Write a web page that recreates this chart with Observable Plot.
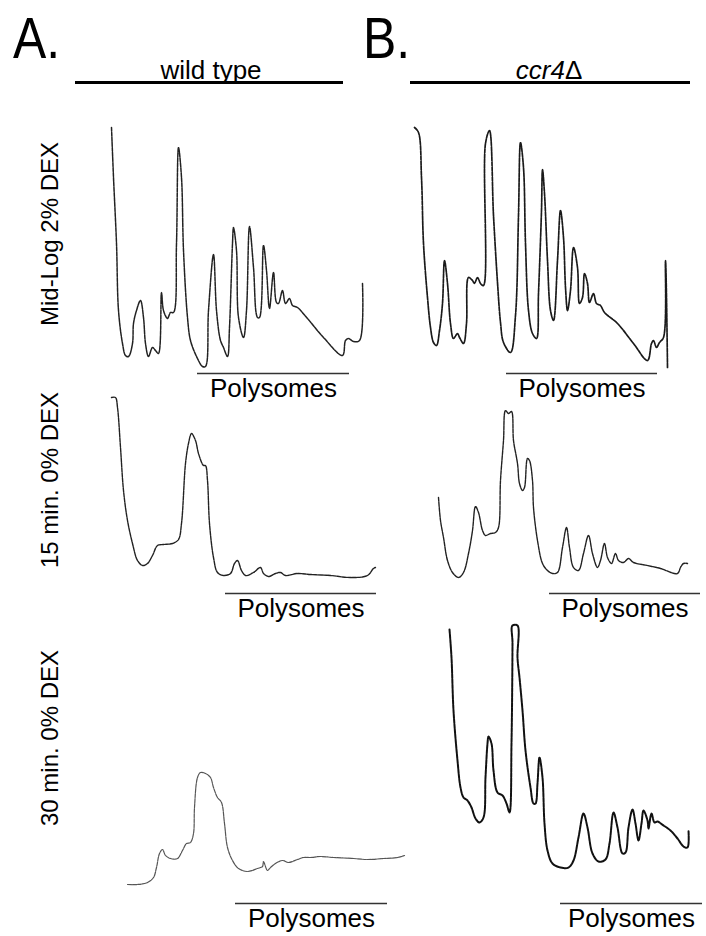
<!DOCTYPE html>
<html><head><meta charset="utf-8">
<script src="https://cdn.jsdelivr.net/npm/d3@7"></script>
<script src="https://cdn.jsdelivr.net/npm/@observablehq/plot@0.6"></script>
<style>
body{margin:0;background:#fff;font-family:"Liberation Sans",Arial,sans-serif;color:#000;}
#fig{position:relative;width:706px;height:936px;overflow:hidden;background:#fff;}
.abs{position:absolute;white-space:nowrap;}
.letter{font-size:58px;line-height:1;transform:scaleX(0.86);transform-origin:left top;}
.strain{font-size:26px;line-height:1;transform:translateX(-50%);}
.bar{height:3px;background:#000;}
.row{font-size:24px;line-height:1;transform:translate(-50%,-50%) rotate(-90deg);}
.panel{position:absolute;}
.panel svg{overflow:visible;}
</style></head><body><div id="fig"></div><script>
// ---- labels ----
const panelLetters = ["A.", "B."];
const strains = ["wild type", "ccr4"];
const conditions = ["Mid-Log 2% DEX", "15 min. 0% DEX", "30 min. 0% DEX"];
const polysomeLabel = "Polysomes";

// ---- traces: [position along gradient, A254 signal] (arbitrary units) ----
const wtMidLog = [[11,243],[13,193],[16,127],[18,60],[22,27],[25,15],[28,14],[32,27],[33,47],[36,60],[40,70],[43,53],[45,27],[48,14],[52,23],[55,20],[58,17],[61,78],[63,60],[67,52],[70,58],[73,58],[76,127],[78,223],[81,193],[83,120],[87,53],[90,30],[97,12],[102,4],[105,4],[108,60],[113,116],[116,60],[120,30],[123,23],[127,14],[129,43],[132,127],[133,143],[136,120],[138,53],[143,33],[146,60],[149,144],[153,103],[157,53],[159,53],[163,125],[166,100],[169,62],[173,98],[176,68],[178,67],[182,80],[185,67],[189,72],[192,65],[197,63],[207,52],[223,33],[242,15],[245,30],[248,32],[253,29],[259,30],[262,87]];
const ccr4MidLog = [[9,243],[13,238],[16,193],[18,127],[22,73],[25,43],[28,28],[31,25],[34,40],[37,67],[39,110],[42,87],[45,47],[48,32],[52,37],[54,33],[58,27],[61,47],[63,93],[67,90],[69,87],[72,93],[75,87],[78,85],[80,227],[84,240],[88,155],[92,88],[95,48],[98,28],[105,18],[110,55],[113,155],[115,228],[118,203],[120,127],[123,60],[127,37],[131,32],[133,77],[136,160],[137,201],[139,177],[142,110],[145,60],[148,50],[152,110],[155,160],[158,133],[160,83],[162,60],[165,80],[168,123],[172,103],[174,67],[177,73],[179,97],[182,87],[184,68],[188,77],[191,67],[195,65],[199,58],[212,47],[228,27],[242,10],[246,27],[248,30],[251,23],[254,28],[258,33],[260,110],[262,3]];
const wt15min = [[11,193],[15,193],[17,183],[20,143],[23,100],[27,70],[32,47],[37,30],[42,25],[47,27],[52,35],[57,45],[63,46],[72,47],[78,51],[81,67],[85,127],[88,147],[91,157],[95,150],[98,137],[103,125],[105,125],[107,110],[109,67],[113,33],[117,18],[123,15],[130,17],[134,27],[137,30],[141,20],[145,15],[153,18],[160,23],[163,17],[168,14],[175,17],[180,18],[185,15],[197,17],[210,16],[230,15],[250,13],[267,15],[273,22],[275,23]];
const ccr415min = [[8,93],[10,70],[13,53],[17,30],[22,18],[28,13],[33,18],[38,37],[42,60],[45,84],[48,78],[52,60],[55,55],[60,57],[65,58],[68,63],[70,110],[73,150],[75,180],[78,177],[81,179],[83,150],[87,127],[89,107],[92,100],[94,103],[97,132],[99,130],[102,110],[103,83],[107,50],[112,27],[117,20],[122,17],[127,18],[132,43],[136,63],[139,43],[143,23],[148,20],[153,37],[158,55],[162,37],[167,23],[170,30],[174,47],[177,33],[181,27],[185,37],[188,30],[193,28],[198,32],[203,28],[217,25],[230,22],[247,17],[250,23],[253,27],[257,27]];
const wt30min = [[12,16],[22,16],[32,18],[38,23],[41,33],[44,47],[47,51],[50,45],[55,42],[62,42],[67,50],[71,57],[75,58],[78,67],[79,93],[82,123],[85,128],[90,127],[95,123],[98,113],[102,103],[106,98],[109,77],[112,53],[117,40],[123,32],[132,29],[142,32],[147,34],[148,39],[152,30],[155,33],[160,37],[167,40],[173,38],[182,41],[188,43],[195,43],[205,44],[218,43],[238,42],[252,41],[268,42],[282,43],[289,45]];
const ccr430min = [[9,271],[11,243],[13,190],[17,140],[20,113],[23,103],[27,100],[31,93],[35,82],[39,78],[43,83],[45,123],[47,157],[48,164],[51,157],[53,130],[57,108],[62,105],[66,97],[69,88],[71,157],[72,257],[72,275],[77,275],[77,243],[79,223],[82,190],[85,150],[90,113],[93,97],[95,97],[97,117],[99,143],[102,123],[104,77],[107,50],[112,37],[120,33],[128,33],[133,40],[138,63],[143,87],[147,73],[152,47],[158,39],[165,41],[169,57],[173,88],[177,73],[182,47],[185,48],[188,73],[192,91],[195,77],[198,60],[201,77],[203,90],[207,80],[208,72],[211,87],[214,78],[217,79],[223,75],[230,70],[237,62],[243,54],[247,53],[248,70]];

// polysome fraction ranges (same gradient units), per condition
const wtPolysomes = [[97,249],[125,276],[120,272]];
const ccr4Polysomes = [[101,252],[119,270],[120,262]];

// ---- layout (page placement only) ----
const fig = document.getElementById("fig");
function addDiv(cls, html, css){const d=document.createElement("div");d.className="abs "+cls;d.innerHTML=html;Object.assign(d.style,css);fig.appendChild(d);return d;}

addDiv("letter", panelLetters[0], {left:"13px", top:"9px"});
addDiv("letter", panelLetters[1], {left:"363px", top:"9px"});
addDiv("strain", strains[0], {left:"211px", top:"57px"});
addDiv("strain", "<i>"+strains[1]+"</i>\u0394", {left:"549px", top:"57px"});
addDiv("bar", "", {left:"75px", top:"81px", width:"268px"});
addDiv("bar", "", {left:"410px", top:"81px", width:"280px"});
addDiv("row", conditions[0], {left:"50px", top:"234px"});
addDiv("row", conditions[1], {left:"50px", top:"480px"});
addDiv("row", conditions[2], {left:"50px", top:"738px"});

const panels = [
  {data: wtMidLog,   poly: wtPolysomes[0],   left:100, base:370, width:290, yMin:-40, yMax:260, stroke:"#222", sw:1.5},
  {data: ccr4MidLog, poly: ccr4Polysomes[0], left:405, base:370, width:290, yMin:-40, yMax:260, stroke:"#1a1a1a", sw:1.7},
  {data: wt15min,    poly: wtPolysomes[1],   left:100, base:590, width:290, yMin:-40, yMax:200, stroke:"#222", sw:1.4},
  {data: ccr415min,  poly: ccr4Polysomes[1], left:430, base:590, width:270, yMin:-40, yMax:200, stroke:"#222", sw:1.4},
  {data: wt30min,    poly: wtPolysomes[2],   left:115, base:900, width:300, yMin:-34, yMax:290, stroke:"#555", sw:1.2},
  {data: ccr430min,  poly: ccr4Polysomes[2], left:440, base:900, width:266, yMin:-34, yMax:290, stroke:"#111", sw:2}
];

for (const p of panels) {
  const H = p.yMax - p.yMin;
  const chart = Plot.plot({
    width: p.width, height: H, margin: 0,
    x: {domain: [0, p.width], axis: null},
    y: {domain: [p.yMin, p.yMax], axis: null},
    style: {background: "transparent", overflow: "visible"},
    marks: [
      Plot.line(p.data, {x: d => d[0], y: d => d[1], stroke: p.stroke, strokeWidth: p.sw, strokeDasharray: "4 1", curve: "catmull-rom"}),
      Plot.ruleY([p.poly], {x1: d => d[0], x2: d => d[1], y: -3, stroke: "#333", strokeWidth: 1.5}),
      Plot.text([p.poly], {x: d => (d[0] + d[1]) / 2, y: -26, text: () => polysomeLabel, fontSize: 26, lineAnchor: "bottom", fill: "#000", fontFamily: "Liberation Sans, Arial, sans-serif"})
    ]
  });
  const wrap = document.createElement("div");
  wrap.className = "panel";
  wrap.style.left = p.left + "px";
  wrap.style.top = (p.base - p.yMax) + "px";
  wrap.appendChild(chart);
  fig.appendChild(wrap);
}
</script></body></html>
